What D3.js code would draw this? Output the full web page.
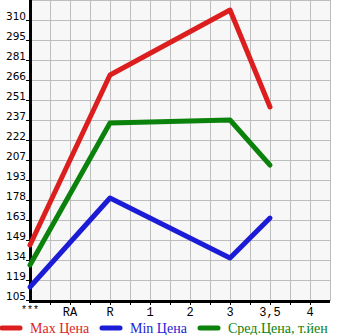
<!DOCTYPE html>
<html>
<head>
<meta charset="utf-8">
<script src="https://cdn.jsdelivr.net/npm/d3@7"></script>
<style>
  body { margin: 0; background: #fff; }
  svg { display: block; }
</style>
</head>
<body>
<svg id="chart" width="345" height="335"></svg>
<script>
// categories on the x axis
const categories = ['***', 'RA', 'R', '1', '2', '3', '3,5', '4']
// y tick labels, evenly spaced
const yTicks = ['105', '119', '134', '149', '163', '178', '193', '207', '222', '237', '251', '266', '281', '295', '310']

// series
const maxCats = ['***', 'R', '3', '3,5']
const maxValues = [145.3, 269.7, 317.3, 246.3]
const minValues = [114.5, 179.7, 135.7, 165.0]
const avgValues = [130.6, 234.6, 236.8, 203.8]

const seriesNames = ['Max Цена', 'Min Цена', 'Сред.Цена, т.йен']
const seriesColors = ['#dd1e1e', '#1c1cd6', '#0b820b']

const svg = d3.select('#chart')

const plotLeft = 30, plotRight = 330, plotTop = 0, plotBottom = 301

const x = d3.scalePoint()
    .domain(categories)
    .range([30, 310])

const y = d3.scaleLinear()
    .domain([105, 310])
    .range([plotBottom - 1, 20])

/**
 * plot background + grid
 */
svg.append('rect')
    .attr('x', plotLeft).attr('y', plotTop)
    .attr('width', plotRight - plotLeft).attr('height', plotBottom - plotTop)
    .attr('fill', '#f7f7f7')

const gridX = d3.range(plotLeft + 20, plotRight + 1, 20)
const gridY = d3.range(plotBottom - 1, -1, -20)

svg.append('g')
    .selectAll('line')
    .data(gridX)
    .join('line')
    .attr('x1', d => d + 0.5).attr('x2', d => d + 0.5)
    .attr('y1', plotTop).attr('y2', plotBottom)
    .attr('stroke', '#bdbdbd')

svg.append('g')
    .selectAll('line')
    .data(gridY)
    .join('line')
    .attr('x1', plotLeft).attr('x2', plotRight)
    .attr('y1', d => d + 0.5).attr('y2', d => d + 0.5)
    .attr('stroke', '#bdbdbd')

/**
 * axes
 */
const tickPos = (i) => y(105 + i * (310 - 105) / (yTicks.length - 1))

const yAxis = svg.append('g')
yAxis.selectAll('line')
    .data(yTicks)
    .join('line')
    .attr('x1', plotLeft - 4).attr('x2', plotLeft)
    .attr('y1', (d, i) => tickPos(i) + 0.5).attr('y2', (d, i) => tickPos(i) + 0.5)
    .attr('stroke', '#000')
yAxis.selectAll('text')
    .data(yTicks)
    .join('text')
    .attr('x', 26)
    .attr('y', (d, i) => tickPos(i))
    .attr('text-anchor', 'end')
    .attr('font-family', 'DejaVu Sans, sans-serif')
    .attr('font-size', 10.5)
    .text(d => d)

const xAxis = svg.append('g')
xAxis.selectAll('line')
    .data(gridX.slice(0, -1))
    .join('line')
    .attr('x1', d => d + 0.5).attr('x2', d => d + 0.5)
    .attr('y1', plotBottom).attr('y2', plotBottom + 4)
    .attr('stroke', '#000')
xAxis.selectAll('text')
    .data(categories)
    .join('text')
    .attr('x', d => x(d))
    .attr('y', d => d === '***' ? 313 : 316)
    .attr('text-anchor', 'middle')
    .attr('font-family', 'Liberation Mono, monospace')
    .attr('font-size', d => d === '***' ? 10 : 12)
    .text(d => d)

svg.append('line')
    .attr('x1', plotLeft + 0.5).attr('x2', plotLeft + 0.5)
    .attr('y1', plotTop).attr('y2', plotBottom + 1.5)
    .attr('stroke', '#000').attr('stroke-width', 3)
svg.append('line')
    .attr('x1', plotLeft - 1).attr('x2', plotRight)
    .attr('y1', plotBottom + 0.5).attr('y2', plotBottom + 0.5)
    .attr('stroke', '#000').attr('stroke-width', 3)

/**
 * lines
 */
const line = d3.line()
    .x(d => x(d.cat))
    .y(d => y(d.value))

const series = [maxValues, minValues, avgValues].map((vals, i) => ({
    name: seriesNames[i],
    color: seriesColors[i],
    points: vals.map((v, j) => ({ cat: maxCats[j], value: v }))
}))

svg.append('g')
    .selectAll('path')
    .data(series)
    .join('path')
    .attr('d', d => line(d.points))
    .attr('fill', 'none')
    .attr('stroke', d => d.color)
    .attr('stroke-width', 5)
    .attr('stroke-linejoin', 'round')
    .attr('stroke-linecap', 'round')

/**
 * legend
 */
const legendX = [0, 100, 198]
const legend = svg.append('g')
    .selectAll('g')
    .data(series)
    .join('g')
    .attr('transform', (d, i) => `translate(${legendX[i]},328)`)

legend.append('line')
    .attr('x1', 2).attr('x2', 20)
    .attr('stroke', d => d.color)
    .attr('stroke-width', 5)
    .attr('stroke-linecap', 'round')
legend.append('text')
    .attr('x', 30)
    .attr('y', 5)
    .attr('fill', d => d.color)
    .attr('font-family', 'Liberation Serif, serif')
    .attr('font-size', 14)
    .text(d => d.name)
</script>
</body>
</html>
